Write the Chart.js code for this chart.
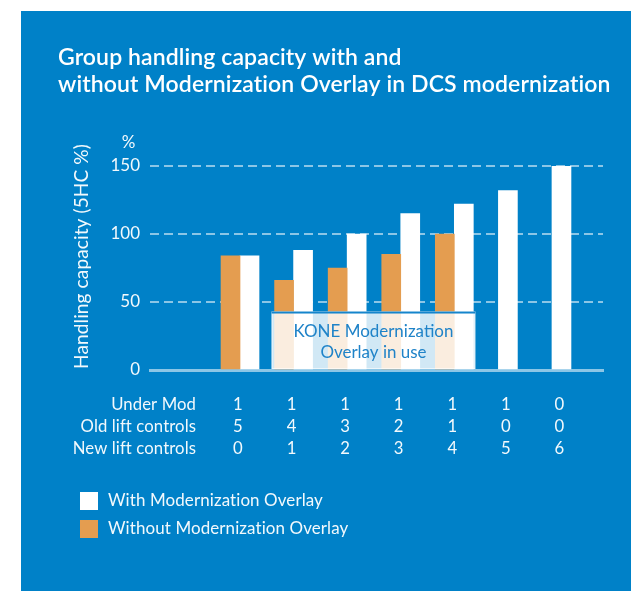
<!DOCTYPE html>
<html>
<head>
<meta charset="utf-8">
<script src="https://cdn.jsdelivr.net/npm/chart.js@4.4.1/dist/chart.umd.min.js"></script>
<style>
	html, body { margin: 0; padding: 0; background: #fff; }
	#panel { position: absolute; left: 21px; top: 11px; width: 610px; height: 580px; background: #0081c8; }
	canvas { display: block; }
</style>
</head>
<body>
<div id="panel"><canvas id="chart" width="610" height="580"></canvas></div>
<script>
// data
const titleLines = ['Group handling capacity with and', 'without Modernization Overlay in DCS modernization'];
const yTitle = 'Handling capacity (5HC %)';
const yUnit = '%';
const yTicks = [0, 50, 100, 150];
const columns = [1, 2, 3, 4, 5, 6, 7];
const withOverlay = [84, 88, 100, 115, 122, 132, 150];
const withoutOverlay = [84, 66, 75, 85, 100, null, null];
const rowLabels = ['Under Mod', 'Old lift controls', 'New lift controls'];
const underMod = [1, 1, 1, 1, 1, 1, 0];
const oldControls = [5, 4, 3, 2, 1, 0, 0];
const newControls = [0, 1, 2, 3, 4, 5, 6];
const seriesNames = ['With Modernization Overlay', 'Without Modernization Overlay'];
const overlayText = ['KONE Modernization', 'Overlay in use'];
const overlayColumns = [2, 5];
const overlayTopValue = 43;

const FAMILY = 'Lato, "Open Sans", sans-serif';
const WHITE = '#ffffff';
const ORANGE = '#e49d50';
const TEXT = 'rgba(255,255,255,0.95)';

// size a font so that text fills a given width
function fitFont(ctx, text, weight, width) {
	ctx.font = `${weight} 100px ${FAMILY}`;
	const w = ctx.measureText(text).width;
	return `${weight} ${(100 * width / w).toFixed(2)}px ${FAMILY}`;
}

const decorations = {
	id: 'decorations',
	afterDatasetsDraw(chart) {
		const { ctx, scales: { x, y } } = chart;
		// KONE overlay box
		const left = x.getPixelForValue(overlayColumns[0]) - 22;
		const right = x.getPixelForValue(overlayColumns[1]) + 21;
		const top = y.getPixelForValue(overlayTopValue);
		const bottom = y.getPixelForValue(0) - 1;
		ctx.save();
		ctx.fillStyle = 'rgba(255,255,255,0.82)';
		ctx.fillRect(left, top, right - left, bottom - top);
		ctx.strokeStyle = 'rgba(255,255,255,0.6)';
		ctx.lineWidth = 1;
		ctx.strokeRect(left + 0.5, top + 0.5, right - left - 1, bottom - top - 1);
		ctx.fillStyle = '#1585cc';
		ctx.fillRect(left, top, right - left, 2);
		ctx.fillStyle = '#1f83c8';
		ctx.textAlign = 'center';
		ctx.textBaseline = 'middle';
		ctx.font = fitFont(ctx, overlayText[0], 400, 160);
		const cx = (left + right) / 2;
		ctx.fillText(overlayText[0], cx, top + 20);
		ctx.fillText(overlayText[1], cx, top + 41);
		ctx.restore();
	},
	afterDraw(chart) {
		const { ctx, scales: { x } } = chart;
		ctx.save();
		ctx.fillStyle = WHITE;
		ctx.letterSpacing = '0.1px'; // no ligatures

		// title
		ctx.textAlign = 'left';
		ctx.textBaseline = 'alphabetic';
		ctx.font = fitFont(ctx, titleLines[1], 600, 549);
		ctx.fillText(titleLines[0], 37, 53.5);
		ctx.fillText(titleLines[1], 37, 81);

		// axis title and unit
		ctx.fillStyle = TEXT;
		ctx.font = fitFont(ctx, yTitle, 400, 223);
		ctx.save();
		ctx.translate(61, 245.5);
		ctx.rotate(-Math.PI / 2);
		ctx.textAlign = 'center';
		ctx.textBaseline = 'middle';
		ctx.fillText(yTitle, 0, 0);
		ctx.restore();
		ctx.font = `400 17px ${FAMILY}`;
		ctx.textAlign = 'center';
		ctx.textBaseline = 'middle';
		ctx.fillText(yUnit, 107.5, 132);

		// table under the bars
		const rows = [underMod, oldControls, newControls];
		const rowY = [393.5, 415.5, 437.5];
		ctx.font = fitFont(ctx, rowLabels[2], 400, 122);
		rows.forEach((row, r) => {
			ctx.textAlign = 'right';
			ctx.fillText(rowLabels[r], 175, rowY[r]);
			ctx.textAlign = 'center';
			row.forEach((v, i) => {
				ctx.fillText(String(v), x.getPixelForValue(columns[i]) - 2, rowY[r]);
			});
		});

		// legend
		const colors = [WHITE, ORANGE];
		const legendY = [481, 509];
		ctx.font = fitFont(ctx, seriesNames[1], 400, 238);
		ctx.textAlign = 'left';
		seriesNames.forEach((name, i) => {
			ctx.fillStyle = colors[i];
			ctx.fillRect(59, legendY[i], 18, 18);
			ctx.fillStyle = TEXT;
			ctx.fillText(name, 87, legendY[i] + 8.5);
		});
		ctx.restore();
	}
};

const ctx = document.getElementById('chart');
new Chart(ctx, {
	type: 'bar',
	data: {
		datasets: [
			{
				label: seriesNames[1],
				data: columns.map((c, i) => ({ x: c, y: withoutOverlay[i] })),
				backgroundColor: ORANGE,
				skipNull: true
			},
			{
				label: seriesNames[0],
				data: columns.map((c, i) => ({ x: c, y: withOverlay[i] })),
				backgroundColor: WHITE,
				skipNull: true
			}
		]
	},
	options: {
		responsive: false,
		animation: false,
		devicePixelRatio: 1,
		barThickness: 19,
		layout: { padding: { left: 0, top: 155, right: 28, bottom: 221 } },
		plugins: {
			legend: { display: false },
			title: { display: false },
			tooltip: { enabled: false }
		},
		scales: {
			x: {
				type: 'linear',
				offset: false,
				min: -0.68,
				max: 7.775,
				grid: { display: false, offset: false },
				ticks: { display: false },
				border: { color: 'rgba(255,255,255,0.55)', width: 3 },
				afterFit: (s) => { s.height = 0; }
			},
			y: {
				min: 0,
				max: 150,
				afterBuildTicks: (s) => { s.ticks = yTicks.map((v) => ({ value: v })); },
				afterFit: (s) => { s.width = 129; },
				grid: {
					color: (c) => (c.tick && c.tick.value === 0 ? 'rgba(0,0,0,0)' : 'rgba(255,255,255,0.55)'),
					lineWidth: 2,
					drawTicks: false
				},
				border: { display: false, dash: [9, 5] },
				ticks: {
					color: TEXT,
					padding: 10,
					font: { family: FAMILY, size: 17, weight: 400 }
				}
			}
		}
	},
	plugins: [decorations]
});
</script>
</body>
</html>
